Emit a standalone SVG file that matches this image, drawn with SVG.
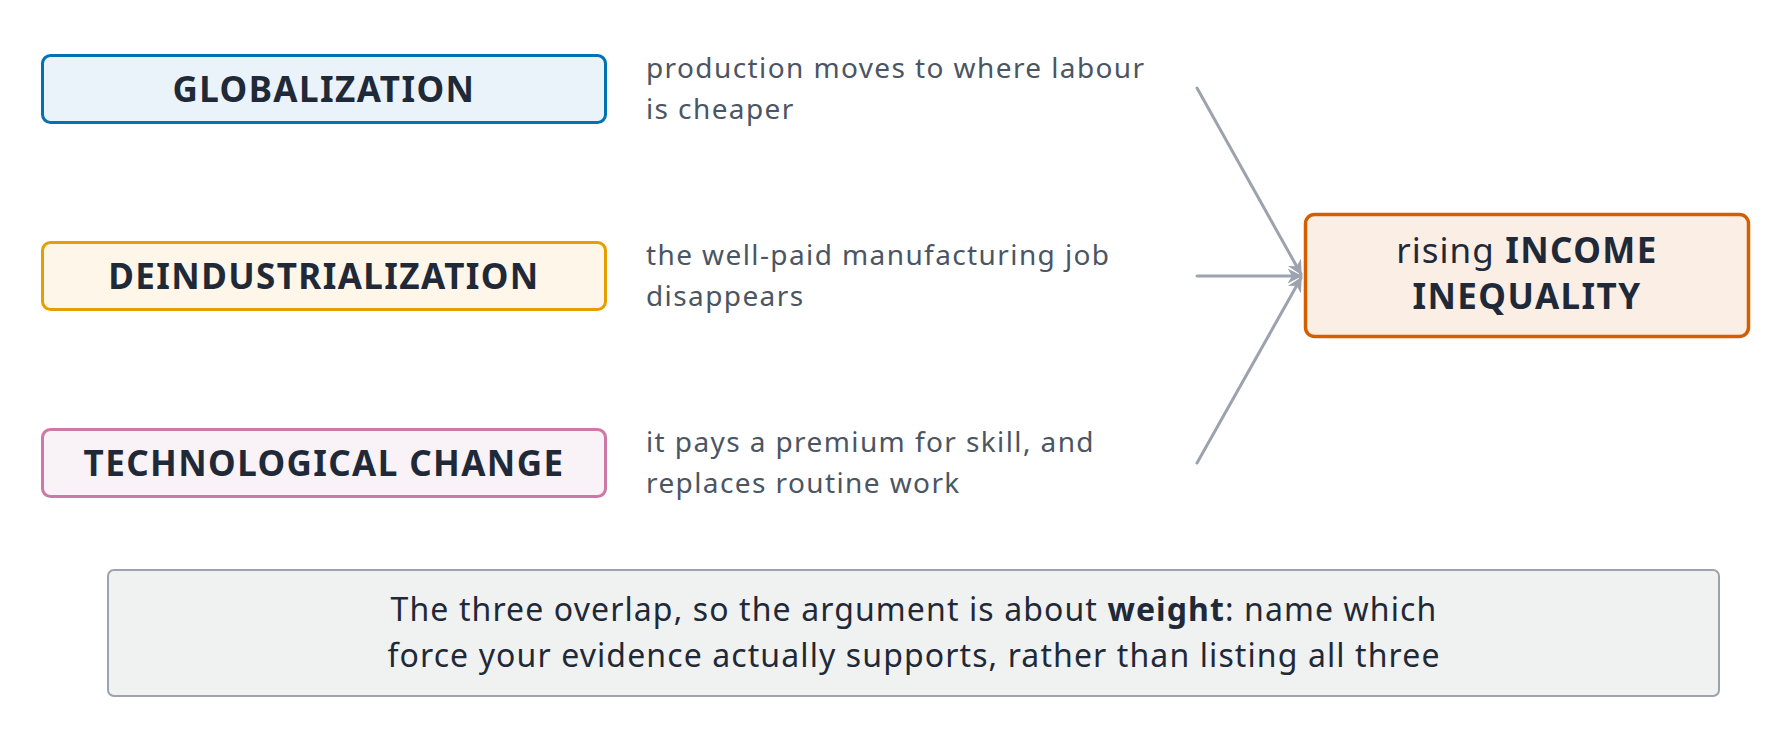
<svg xmlns="http://www.w3.org/2000/svg" width="1792" height="739" viewBox="0 0 1792 739">
<style>
.lbl{font-family:"Noto Sans","Open Sans",sans-serif;font-weight:700;font-size:35px;letter-spacing:1.4px;fill:#1f2937;text-anchor:middle}
.desc{font-family:"Noto Sans","Open Sans",sans-serif;font-size:28px;letter-spacing:1.4px;fill:#4b5563}
.note{font-family:"Noto Sans","Open Sans",sans-serif;font-size:32px;letter-spacing:1.1px;fill:#1f2937;text-anchor:middle}
.conn{stroke:#9ca3af;stroke-width:3;fill:none;stroke-linecap:round}
</style>
<defs>
<marker id="arr" viewBox="0 0 10 10" refX="9" refY="5" markerWidth="5" markerHeight="5" orient="auto" markerUnits="strokeWidth">
<path d="M0,0 L10,5 L0,10 L3,5 Z" fill="#9ca3af"/>
</marker>
</defs>
<rect width="1792" height="739" fill="#ffffff"/>
<g id="connectors">
<line class="conn" x1="1197" y1="88" x2="1301" y2="274" marker-end="url(#arr)"/>
<line class="conn" x1="1197" y1="276" x2="1301" y2="276" marker-end="url(#arr)"/>
<line class="conn" x1="1197" y1="463" x2="1301" y2="278" marker-end="url(#arr)"/>
</g>
<g id="globalization">
<rect x="42.5" y="55.5" width="563" height="67" rx="8" fill="#eaf3f9" stroke="#0072b2" stroke-width="3"/>
<text class="lbl" x="324" y="102">GLOBALIZATION</text>
</g>
<g id="globalization-desc">
<text class="desc" x="646" y="78">production moves to where labour</text>
<text class="desc" x="646" y="119">is cheaper</text>
</g>
<g id="deindustrialization">
<rect x="42.5" y="242.5" width="563" height="67" rx="8" fill="#fdf6e9" stroke="#e69f00" stroke-width="3"/>
<text class="lbl" x="324" y="289">DEINDUSTRIALIZATION</text>
</g>
<g id="deindustrialization-desc">
<text class="desc" x="646" y="265">the well-paid manufacturing job</text>
<text class="desc" x="646" y="306">disappears</text>
</g>
<g id="technological-change">
<rect x="42.5" y="429.5" width="563" height="67" rx="8" fill="#f9f2f6" stroke="#cc79a7" stroke-width="3"/>
<text class="lbl" x="324" y="476">TECHNOLOGICAL CHANGE</text>
</g>
<g id="technological-change-desc">
<text class="desc" x="646" y="452">it pays a premium for skill, and</text>
<text class="desc" x="646" y="493">replaces routine work</text>
</g>
<g id="income-inequality">
<rect x="1305.5" y="214.5" width="443" height="122" rx="9" fill="#fbeee5" stroke="#d55e00" stroke-width="3.5"/>
<text class="lbl" x="1527" y="263" font-size="33" letter-spacing="2.4"><tspan font-weight="400" letter-spacing="1">rising</tspan> INCOME</text>
<text class="lbl" x="1527" y="309" font-size="33" letter-spacing="2.4">INEQUALITY</text>
</g>
<g id="note">
<rect x="108" y="570" width="1611" height="126" rx="6" fill="#f0f2f1" stroke="#9ca3af" stroke-width="2"/>
<text class="note" x="914" y="621">The three overlap, so the argument is about <tspan font-weight="700">weight</tspan>: name which</text>
<text class="note" x="914" y="667">force your evidence actually supports, rather than listing all three</text>
</g>
</svg>
